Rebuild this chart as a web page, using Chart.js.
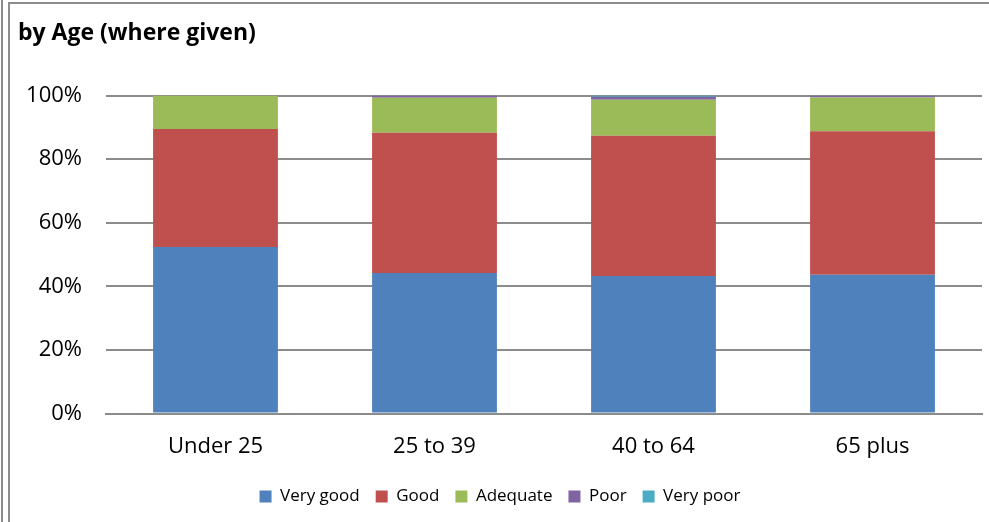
<!DOCTYPE html>
<html>
<head>
<meta charset="utf-8">
<script src="https://cdn.jsdelivr.net/npm/chart.js@4/dist/chart.umd.min.js"></script>
<style>
  html, body { margin: 0; padding: 0; background: #fff; }
  #chart { display: block; }
</style>
</head>
<body>
<canvas id="chart" width="989" height="522"></canvas>
<script>
// Categories and series (percent of responses)
const ageGroups = ['Under 25', '25 to 39', '40 to 64', '65 plus'];
const veryGood = [52.4, 44.2, 43.3, 43.7];
const good = [37.1, 44.1, 44.1, 45.1];
const adequate = [10.5, 11.0, 11.3, 10.6];
const poor = [0, 0.7, 0.9, 0.6];
const veryPoor = [0, 0, 0.4, 0];
const yTicks = [0, 20, 40, 60, 80, 100];

const FONT = "'Open Sans', 'Liberation Sans', sans-serif";

// Frame lines like the spreadsheet cell border
const framePlugin = {
    id: 'frame',
    beforeDraw(chart) {
        const ctx = chart.ctx;
        ctx.save();
        ctx.fillStyle = '#fff';
        ctx.fillRect(0, 0, chart.width, chart.height);
        ctx.strokeStyle = '#8c8c8c';
        ctx.lineWidth = 2;
        ctx.beginPath();
        ctx.moveTo(2, 0); ctx.lineTo(2, chart.height);
        ctx.moveTo(9, 3); ctx.lineTo(9, chart.height);
        ctx.moveTo(8, 3); ctx.lineTo(chart.width, 3);
        ctx.stroke();
        ctx.restore();
    }
};

function makeSet(label, data, color) {
    return {
        label: label,
        data: data,
        backgroundColor: color,
        borderWidth: 0,
        barPercentage: 0.57,
        categoryPercentage: 1
    };
}

const ctx = document.getElementById('chart').getContext('2d');
new Chart(ctx, {
    type: 'bar',
    data: {
        labels: ageGroups,
        datasets: [
            makeSet('Very good', veryGood, '#4F81BD'),
            makeSet('Good', good, '#C0504D'),
            makeSet('Adequate', adequate, '#9BBB59'),
            makeSet('Poor', poor, '#8064A2'),
            makeSet('Very poor', veryPoor, '#4BACC6')
        ]
    },
    options: {
        responsive: false,
        animation: false,
        devicePixelRatio: 1,
        layout: { padding: { left: 18, right: 7, top: 18, bottom: 7 } },
        plugins: {
            title: {
                display: true,
                text: 'by Age (where given)',
                align: 'start',
                color: '#000',
                font: { family: FONT, size: 23, weight: 'bold' },
                padding: { top: 2, bottom: 48 }
            },
            legend: {
                position: 'bottom',
                labels: {
                    color: '#000',
                    font: { family: FONT, size: 17 },
                    boxWidth: 12,
                    boxHeight: 12,
                    padding: 16
                }
            },
            tooltip: { enabled: false }
        },
        scales: {
            x: {
                stacked: true,
                grid: { display: false },
                border: { display: true, color: '#8c8c8c', width: 2 },
                ticks: { color: '#000', font: { family: FONT, size: 22 }, padding: 12 }
            },
            y: {
                stacked: true,
                min: 0,
                max: 100,
                afterFit(scale) { scale.width = 88; },
                afterBuildTicks(scale) { scale.ticks = yTicks.map(v => ({ value: v })); },
                grid: { color: '#8c8c8c', lineWidth: 2, drawTicks: false },
                border: { display: false },
                ticks: {
                    color: '#000',
                    font: { family: FONT, size: 22 },
                    padding: 24,
                    callback: v => v + '%'
                }
            }
        }
    },
    plugins: [framePlugin]
});
</script>
</body>
</html>
